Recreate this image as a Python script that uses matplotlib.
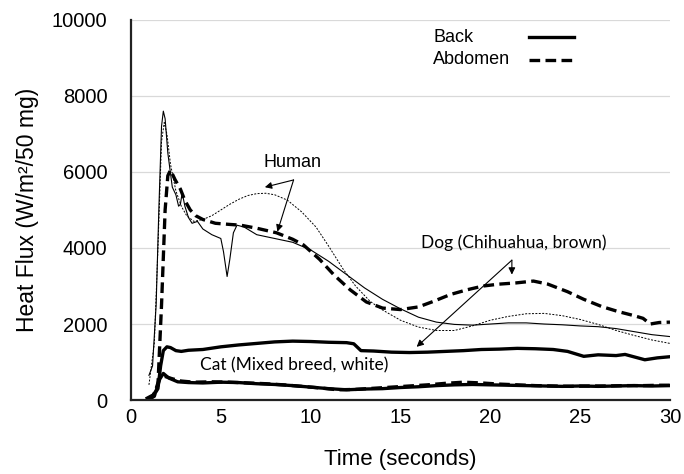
import matplotlib
matplotlib.use('Agg')
import matplotlib.pyplot as plt
from matplotlib.lines import Line2D

plt.rcParams['font.family'] = ['Liberation Sans', 'DejaVu Sans']

# Human, back (thin solid)
human_back_t = [1.0, 1.2, 1.4, 1.55, 1.7, 1.8, 1.9, 2.05, 2.3, 2.5, 2.65, 2.75, 2.85, 3.0, 3.2, 3.4,
                3.7, 4.0, 4.5, 5.0, 5.15, 5.35, 5.5, 5.7, 5.9, 6.3, 7.0, 8.0, 9.0, 10.0, 11.0, 12.0,
                13.0, 14.0, 15.0, 16.0, 17.0, 18.0, 19.0, 20.0, 21.0, 22.0, 23.0, 24.0, 25.0, 26.0,
                27.0, 28.0, 29.0, 30.0]
human_back = [650, 900, 2500, 5000, 7200, 7600, 7400, 6500, 5600, 5400, 5100, 5150, 5450, 5100, 4800, 4650,
              4700, 4500, 4350, 4250, 3900, 3250, 3700, 4400, 4600, 4550, 4350, 4250, 4150, 3950, 3650, 3300,
              2950, 2650, 2400, 2180, 2050, 1990, 1970, 2000, 2030, 2030, 2000, 1980, 1950, 1930,
              1880, 1800, 1720, 1670]

# Human, abdomen (thin dotted)
human_abd_t = [1.0, 1.3, 1.5, 1.7, 1.85, 2.0, 2.2, 2.5, 2.8, 3.1, 3.5, 4.0, 4.5, 5.0, 5.5, 6.0, 6.5, 7.0,
               7.5, 8.0, 8.7, 9.5, 10.3, 11.0, 11.8, 12.5, 13.3, 14.0, 15.0, 16.0, 17.0, 18.0, 19.0,
               20.0, 21.0, 22.0, 23.0, 24.0, 25.0, 26.0, 27.0, 28.0, 29.0, 30.0]
human_abd = [400, 1500, 4000, 6800, 7300, 7000, 6200, 5500, 5100, 4850, 4700, 4750, 4850, 5000, 5150, 5280,
             5380, 5430, 5440, 5400, 5260, 4950, 4550, 4050, 3450, 3000, 2600, 2370, 2100, 1920, 1830,
             1830, 1950, 2100, 2200, 2270, 2280, 2220, 2120, 1990, 1830, 1700, 1580, 1490]

# Dog, back (thick solid)
dog_back_t = [0.9, 1.3, 1.5, 1.65, 1.8, 2.0, 2.2, 2.5, 2.8, 3.2, 4.0, 5.0, 6.0, 7.0, 8.0, 9.0, 10.0, 11.0,
              12.0, 12.4, 12.8, 13.5, 14.5, 15.5, 16.5, 17.5, 18.5, 19.5, 20.5, 21.5, 22.5, 23.5, 24.3,
              25.2, 26.0, 27.0, 27.5, 28.6, 29.3, 30.0]
dog_back = [50, 150, 300, 900, 1300, 1400, 1380, 1300, 1280, 1310, 1330, 1400, 1450, 1490, 1530, 1550, 1540,
            1520, 1510, 1480, 1300, 1290, 1260, 1250, 1260, 1280, 1300, 1330, 1340, 1360, 1350, 1330,
            1280, 1150, 1190, 1170, 1200, 1060, 1110, 1140]

# Dog, abdomen (thick dashed)
dog_abd_t = [0.9, 1.3, 1.5, 1.7, 1.9, 2.05, 2.2, 2.45, 2.75, 3.0, 3.3, 3.6, 4.0, 4.7, 5.5, 6.1, 7.0, 8.1,
             9.0, 9.6, 10.5, 11.3, 12.2, 13.1, 14.0, 15.0, 16.0, 16.8, 17.8, 18.7, 19.6, 20.5, 21.4,
             22.4, 23.2, 24.3, 25.2, 26.2, 27.1, 28.0, 28.5, 28.9, 29.4, 30.0]
dog_abd = [0, 100, 400, 2500, 5000, 5900, 6050, 5800, 5550, 5250, 5000, 4850, 4750, 4650, 4620, 4600, 4520,
           4400, 4230, 4080, 3700, 3290, 2900, 2580, 2420, 2380, 2450, 2590, 2780, 2900, 3000, 3050,
           3080, 3130, 3050, 2850, 2650, 2460, 2330, 2220, 2150, 2000, 2040, 2050]

# Cat, back (thick solid)
cat_back_t = [0.9, 1.2, 1.4, 1.6, 1.8, 2.1, 2.6, 3.2, 4.0, 5.0, 6.0, 7.0, 8.0, 9.0, 10.0, 11.0, 12.0, 13.0,
              14.0, 15.0, 16.0, 17.0, 18.0, 19.0, 20.0, 21.0, 22.0, 23.0, 24.0, 25.0, 26.0, 27.0, 28.0,
              29.0, 30.0]
cat_back = [0, 100, 250, 550, 700, 580, 480, 460, 450, 470, 460, 430, 410, 380, 340, 300, 270, 290, 300,
            330, 350, 380, 400, 410, 400, 390, 380, 370, 360, 370, 360, 370, 380, 370, 380]

# Cat, abdomen (thick dashed)
cat_abd_t = [0.9, 1.2, 1.4, 1.6, 1.9, 2.3, 2.8, 3.5, 4.5, 5.5, 6.5, 7.5, 8.5, 9.5, 10.5, 11.5, 12.5, 13.5,
             14.5, 15.5, 16.5, 17.5, 18.5, 19.5, 20.5, 21.5, 22.5, 23.5, 24.5, 25.5, 26.5, 27.5, 28.5,
             29.5, 30.0]
cat_abd = [0, 80, 300, 600, 620, 560, 500, 470, 480, 470, 450, 430, 400, 360, 320, 270, 280, 310, 340, 370,
           400, 440, 470, 450, 420, 400, 380, 370, 360, 370, 370, 380, 380, 390, 390]

x_ticks = [0, 5, 10, 15, 20, 25, 30]
y_ticks = [0, 2000, 4000, 6000, 8000, 10000]

fig = plt.figure(figsize=(6.84, 4.74), dpi=100)
ax = fig.add_axes([0.1915, 0.156, 0.788, 0.802])

thin = 0.8
thick = 2.4
dash = (0, (3.2, 1.6))
dot = (0, (2.0, 1.5))

ax.plot(human_back_t, human_back, color='black', lw=thin)
ax.plot(human_abd_t, human_abd, color='black', lw=0.7, linestyle=dot)
ax.plot(dog_back_t, dog_back, color='black', lw=thick)
ax.plot(dog_abd_t, dog_abd, color='black', lw=thick, linestyle=dash)
ax.plot(cat_back_t, cat_back, color='black', lw=thick)
ax.plot(cat_abd_t, cat_abd, color='black', lw=thick, linestyle=dash)

ax.set_xlim(0, 30)
ax.set_ylim(0, 10000)
ax.set_xticks(x_ticks)
ax.set_yticks(y_ticks)
ax.tick_params(axis='both', length=0, labelsize=14.5)
ax.tick_params(axis='y', pad=17)
ax.tick_params(axis='x', pad=6)
ax.grid(axis='y', color='#d9d9d9', lw=0.9)
ax.set_axisbelow(True)
for s in ['top', 'right']:
    ax.spines[s].set_visible(False)
for s in ['left', 'bottom']:
    ax.spines[s].set_linewidth(1.6)
    ax.spines[s].set_color('#222222')

ax.set_xlabel('Time (seconds)', fontsize=16)
ax.xaxis.set_label_coords(0.5, -0.13)
ax.set_ylabel('Heat Flux (W/m²/50 mg)', fontsize=16.5)
ax.yaxis.set_label_coords(-0.17, 0.5)

# annotations
arrow = dict(arrowstyle='-|>', color='black', lw=0.8, mutation_scale=10, shrinkA=0, shrinkB=0)
ax.text(9.0, 6250, 'Human', fontsize=13, ha='center', va='center')
ax.annotate('', xy=(7.45, 5600), xytext=(9.05, 5790), arrowprops=arrow)
ax.annotate('', xy=(8.15, 4430), xytext=(9.05, 5790), arrowprops=arrow)

ax.text(21.3, 4130, 'Dog (Chihuahua, brown)', fontsize=12.5, ha='center', va='center',
        family=['Lato', 'DejaVu Sans'])
ax.annotate('', xy=(21.2, 3300), xytext=(21.2, 3680), arrowprops=arrow)
ax.annotate('', xy=(15.9, 1400), xytext=(21.2, 3680), arrowprops=arrow)

ax.text(9.1, 920, 'Cat (Mixed breed, white)', fontsize=12.5, ha='center', va='center',
        family=['Lato', 'DejaVu Sans'])

# legend drawn as text + line keys
ax.text(0.561, 0.955, 'Back', transform=ax.transAxes, fontsize=13, va='center')
ax.text(0.561, 0.895, 'Abdomen', transform=ax.transAxes, fontsize=13, va='center')
ax.add_line(Line2D([0.738, 0.822], [0.955, 0.955], transform=ax.transAxes, color='black', lw=thick))
ax.add_line(Line2D([0.738, 0.822], [0.895, 0.895], transform=ax.transAxes, color='black', lw=thick,
                   linestyle=dash))

fig.savefig('out.png', dpi=100)
